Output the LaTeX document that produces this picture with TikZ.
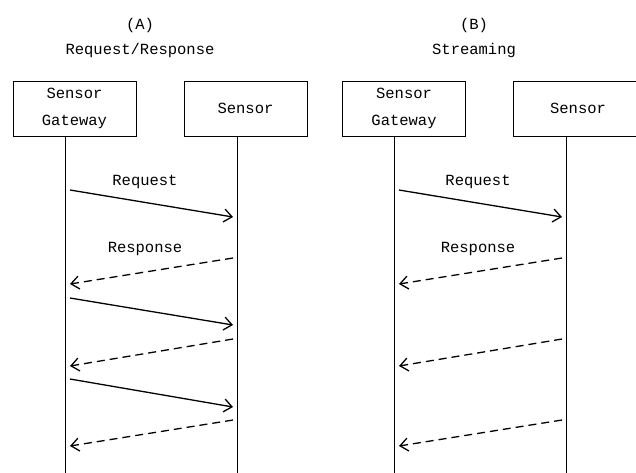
\documentclass[tikz,border=0pt]{standalone}
\usepackage{fontspec}
\setmonofont{Liberation Mono}
\usetikzlibrary{arrows.meta}
\begin{document}
\begin{tikzpicture}[x=1pt,y=-1pt,
  txt/.style={font=\ttfamily\fontsize{15.5}{27}\selectfont, inner sep=0pt},
  actor/.style={draw, line width=1pt, txt, minimum width=123pt, minimum height=55pt, align=center},
  life/.style={line width=0.9pt},
  req/.style={line width=1.3pt, -{Straight Barb[length=8pt,width=13pt,line width=1.3pt]}},
  resp/.style={req, dash pattern=on 8pt off 5pt}
]
\clip (0,0) rectangle (636,472);
\fill[white] (0,0) rectangle (636,472);

% titles
\node[txt] (tA) at (140,25) {(A)};
\node[txt] (tA2) at (140,50) {Request/Response};
\node[txt] (tB) at (474,25) {(B)};
\node[txt] (tB2) at (474,50) {Streaming};

% actors
\node[actor] (ga) at (74.5,108.5) {Sensor\\Gateway};
\node[actor] (sa) at (245.5,108.5) {Sensor};
\node[actor] (gb) at (404,108.5) {Sensor\\Gateway};
\node[actor, minimum width=130pt] (sb) at (578,108.5) {Sensor};

% lifelines
\coordinate (gaEnd) at (65,475);
\coordinate (saEnd) at (237,475);
\coordinate (gbEnd) at (394,475);
\coordinate (sbEnd) at (566,475);
\draw[life] (ga.south -| gaEnd) -- (gaEnd);
\draw[life] (sa.south -| saEnd) -- (saEnd);
\draw[life] (gb.south -| gbEnd) -- (gbEnd);
\draw[life] (sb.south -| sbEnd) -- (sbEnd);

% panel A messages
\coordinate (a1s) at (70,190);  \coordinate (a1e) at (233,217);
\coordinate (a2s) at (233,258); \coordinate (a2e) at (70,284);
\coordinate (a3s) at (70,298);  \coordinate (a3e) at (233,325);
\coordinate (a4s) at (233,339); \coordinate (a4e) at (70,366);
\coordinate (a5s) at (70,379);  \coordinate (a5e) at (233,407);
\coordinate (a6s) at (233,420); \coordinate (a6e) at (70,446);
\draw[req] (a1s) -- (a1e);
\draw[resp] (a2s) -- (a2e);
\draw[req] (a3s) -- (a3e);
\draw[resp] (a4s) -- (a4e);
\draw[req] (a5s) -- (a5e);
\draw[resp] (a6s) -- (a6e);
\node[txt] (lreqA) at (145,182) {Request};
\node[txt] (lrespA) at (145,249) {Response};

% panel B messages
\coordinate (b1s) at (399,190); \coordinate (b1e) at (562,217);
\coordinate (b2s) at (562,258); \coordinate (b2e) at (399,284);
\coordinate (b4s) at (562,339); \coordinate (b4e) at (399,366);
\coordinate (b6s) at (562,420); \coordinate (b6e) at (399,446);
\draw[req] (b1s) -- (b1e);
\draw[resp] (b2s) -- (b2e);
\draw[resp] (b4s) -- (b4e);
\draw[resp] (b6s) -- (b6e);
\node[txt] (lreqB) at (478,182) {Request};
\node[txt] (lrespB) at (478,249) {Response};
\end{tikzpicture}
\end{document}
